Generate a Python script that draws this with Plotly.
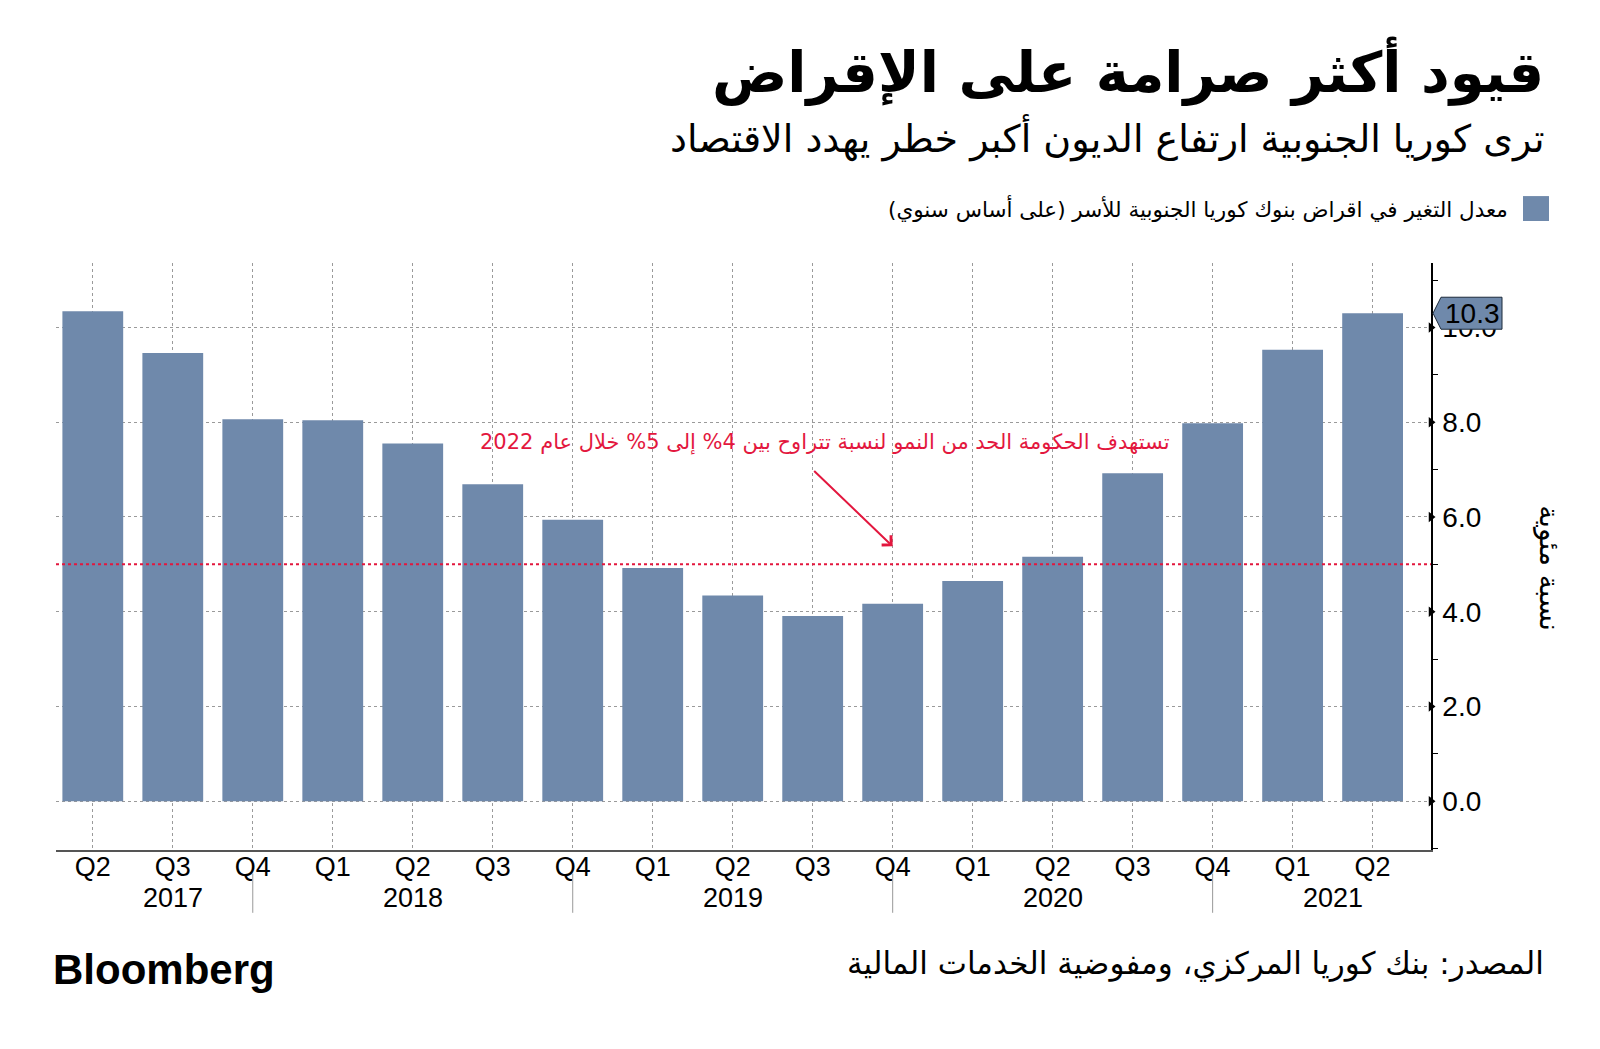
import plotly.graph_objects as go

quarters = ["Q2", "Q3", "Q4", "Q1", "Q2", "Q3", "Q4", "Q1", "Q2", "Q3", "Q4",
            "Q1", "Q2", "Q3", "Q4", "Q1", "Q2"]
years = [2017, 2017, 2017, 2018, 2018, 2018, 2018, 2019, 2019, 2019, 2019,
         2020, 2020, 2020, 2020, 2021, 2021]
values = [10.34, 9.46, 8.06, 8.04, 7.55, 6.69, 5.94, 4.92, 4.34, 3.91, 4.17,
          4.65, 5.16, 6.92, 7.98, 9.53, 10.30]
y_ticks = [0, 2, 4, 6, 8, 10]
y_minor = [-1, 1, 3, 5, 7, 9, 11]
target_level = 5
last_label = "10.3"

title = "قيود أكثر صرامة على الإقراض"
subtitle = "ترى كوريا الجنوبية ارتفاع الديون أكبر خطر يهدد الاقتصاد"
legend_text = "معدل التغير في اقراض بنوك كوريا الجنوبية للأسر (على أساس سنوي)"
note_text = "تستهدف الحكومة الحد من النمو لنسبة تتراوح بين 4% إلى 5% خلال عام 2022"
source_text = "المصدر: بنك كوريا المركزي، ومفوضية الخدمات المالية"
y_title = "نسبة مئوية"

BAR = "#6f89ab"
RED = "#e3173e"
AR_FONT = "DejaVu Sans"
NUM_FONT = "Liberation Sans Narrow, Liberation Sans, Arial Narrow, sans-serif"

x = list(range(len(values)))
xmin, xmax = -0.46, len(values) - 0.27
ymin, ymax = -1.03, 11.36

fig = go.Figure()
fig.add_trace(go.Bar(x=x, y=values, marker=dict(color=BAR, line=dict(width=0)),
                     width=0.76, showlegend=False, hoverinfo="y"))
# tick triangles on right axis
fig.add_trace(go.Scatter(x=[xmax] * len(y_ticks), y=y_ticks, mode="markers",
                         marker=dict(symbol="triangle-right", size=9, color="black"),
                         cliponaxis=False, showlegend=False, hoverinfo="skip"))

fig.update_layout(
    width=1600, height=1049,
    margin=dict(l=48, r=177, t=255, b=207),
    plot_bgcolor="white", paper_bgcolor="white",
    bargap=0.24,
    showlegend=False,
)
fig.update_xaxes(
    range=[xmin, xmax], tickmode="array", tickvals=x, ticktext=quarters,
    showgrid=True, griddash="dot", gridcolor="#9a9a9a", gridwidth=1,
    showline=True, linecolor="#555555", linewidth=1.5,
    ticks="", tickfont=dict(family=NUM_FONT, size=27, color="black"),
    ticklabelstandoff=-8, zeroline=False,
)
fig.update_yaxes(
    range=[ymin, ymax], side="right", tickmode="array", tickvals=y_ticks,
    ticktext=[f"{v:.1f}" for v in y_ticks],
    showgrid=True, griddash="dot", gridcolor="#9a9a9a", gridwidth=1,
    showline=True, linecolor="black", linewidth=1.5, ticks="",
    minor=dict(tickmode="array", tickvals=y_minor, ticks="outside", ticklen=5,
               tickcolor="black", showgrid=False),
    tickfont=dict(family=NUM_FONT, size=28, color="black"),
    ticklabelstandoff=4, zeroline=False,
)

# target line
fig.add_shape(type="line", xref="paper", x0=0, x1=1, yref="y", y0=target_level, y1=target_level,
              line=dict(color=RED, width=2, dash="dot"), layer="above")

# year labels and separators
year_list = sorted(set(years))
for yr in year_list:
    idx = [i for i, v in enumerate(years) if v == yr]
    pos = sum(idx) / len(idx)
    if len(idx) == 4:
        pos -= 0.5
    fig.add_annotation(x=pos, xref="x", y=-0.082, yref="paper", text=str(yr),
                       showarrow=False, yanchor="middle",
                       font=dict(family=NUM_FONT, size=27, color="black"))
for i in range(1, len(years)):
    if years[i] != years[i - 1]:
        fig.add_shape(type="line", xref="x", x0=i - 1, x1=i - 1, yref="paper", y0=-0.04, y1=-0.107,
                      line=dict(color="#999999", width=1))

# last value label
fig.add_shape(type="path", xref="paper", xsizemode="pixel", xanchor=1,
              yref="y", ysizemode="pixel", yanchor=values[-1],
              path="M 2 0 L 10 16 L 71 16 L 71 -16 L 10 -16 Z",
              fillcolor=BAR, line=dict(color="#1c2a3a", width=1), layer="above")
fig.add_annotation(xref="paper", x=1, xshift=41, yref="y", y=values[-1], text=last_label,
                   showarrow=False, xanchor="center", yanchor="middle",
                   font=dict(family=NUM_FONT, size=28, color="black"))

# note and arrow
fig.add_annotation(x=10, y=5.38, ax=9, ay=7.0, xref="x", yref="y", axref="x", ayref="y",
                   text="", showarrow=True, arrowhead=4, arrowsize=1.3, arrowwidth=2,
                   arrowcolor=RED)
fig.add_annotation(x=9.15, y=7.58, xref="x", yref="y", text=note_text, showarrow=False,
                   font=dict(family=AR_FONT, size=21, color=RED), bgcolor="rgba(0,0,0,0)")

# y-axis title
fig.add_annotation(xref="paper", x=1.10, yref="paper", y=0.48, text=y_title, textangle=90,
                   showarrow=False, font=dict(family=AR_FONT, size=28, color="black"))

# titles
fig.add_annotation(xref="paper", x=1.0836, xanchor="right", yref="paper", y=1.327,
                   yanchor="middle", text="<b>" + title + "</b>", showarrow=False,
                   font=dict(family=AR_FONT, size=56, color="black"))
fig.add_annotation(xref="paper", x=1.0836, xanchor="right", yref="paper", y=1.213,
                   yanchor="middle", text=subtitle, showarrow=False,
                   font=dict(family=AR_FONT, size=38, color="black"))

# legend
fig.add_shape(type="rect", xref="paper", yref="paper", x0=1.0669, x1=1.0858, y0=1.0715, y1=1.114,
              fillcolor=BAR, line=dict(width=0))
fig.add_annotation(xref="paper", x=1.0575, xanchor="right", yref="paper", y=1.092,
                   yanchor="middle", text=legend_text, showarrow=False,
                   font=dict(family=AR_FONT, size=21.5, color="black"))

# footer
fig.add_annotation(xref="paper", x=-0.0036, xanchor="left", yref="paper", y=-0.203,
                   yanchor="middle", text="<b>Bloomberg</b>", showarrow=False,
                   font=dict(family="Liberation Sans, Arial, sans-serif", size=42, color="black"))
fig.add_annotation(xref="paper", x=1.0836, xanchor="right", yref="paper", y=-0.194,
                   yanchor="middle", text=source_text, showarrow=False,
                   font=dict(family=AR_FONT, size=31, color="black"))

fig.write_html("out.html")
